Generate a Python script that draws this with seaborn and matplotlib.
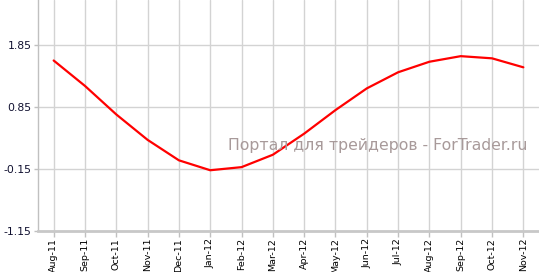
import matplotlib
matplotlib.use("Agg")
import matplotlib.pyplot as plt
import seaborn as sns
import pandas as pd

months = ["Aug-11", "Sep-11", "Oct-11", "Nov-11", "Dec-11", "Jan-12", "Feb-12", "Mar-12",
          "Apr-12", "May-12", "Jun-12", "Jul-12", "Aug-12", "Sep-12", "Oct-12", "Nov-12"]
values = [1.60, 1.19, 0.73, 0.32, -0.01, -0.17, -0.12, 0.08,
          0.42, 0.80, 1.15, 1.41, 1.58, 1.67, 1.635, 1.49]
yticks = [-1.15, -0.15, 0.85, 1.85]
watermark = "Портал для трейдеров - ForTrader.ru"

sns.set_theme(style="white")
plt.rcParams['font.family'] = ['DejaVu Sans']

df = pd.DataFrame({"x": range(len(months)), "v": values})

fig = plt.figure(figsize=(5.39, 2.72), dpi=100)
ax = fig.add_axes([38/539, 1-231/272, 1-38/539, 231/272])
sns.lineplot(data=df, x="x", y="v", ax=ax, color="#ff0000", linewidth=1.6)

ax.set_xlim(-0.5, len(months) - 0.5)
ax.set_ylim(-1.15, 1.85 + 45/62)
ax.set_xticks(range(len(months)))
ax.set_xticklabels(months, rotation=90, fontsize=6.8, color="#000000")
ax.set_yticks(yticks)
ax.set_yticklabels([f"{t:.2f}" for t in yticks], fontsize=7.8, color="#101030")
ax.set_xlabel("")
ax.set_ylabel("")
ax.grid(True, color="#d3d3d3", linewidth=1.0)
ax.set_axisbelow(True)
for s in ["top", "right"]:
    ax.spines[s].set_visible(False)
ax.spines["left"].set_color("#c0c0c0")
ax.spines["left"].set_linewidth(1.0)
ax.spines["bottom"].set_color("#c8c8c8")
ax.spines["bottom"].set_linewidth(2.0)
ax.tick_params(axis="x", length=4, width=1, color="#c0c0c0", pad=1.0, bottom=True)
ax.tick_params(axis="y", length=3, width=1, color="#c0c0c0", pad=1.5, left=True)

ax.text(0.678, 0.368, watermark, transform=ax.transAxes, ha="center", va="center",
        fontsize=11.3, color="#a89a9a")

fig.savefig("out.png", dpi=100)
